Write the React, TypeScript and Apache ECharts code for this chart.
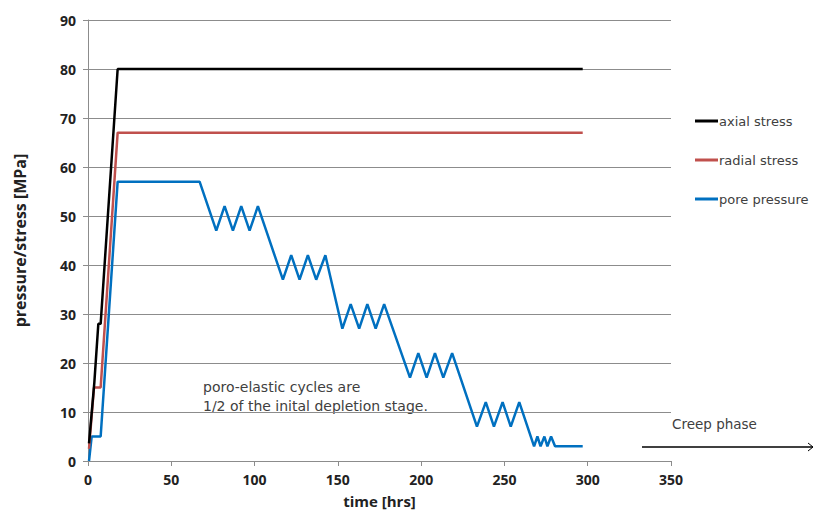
import React, { useEffect, useRef } from "react";
import * as echarts from "echarts";

// time [hrs] / value [MPa] pairs for each curve
const axialTime = [0.6, 3.8, 6.2, 7.6, 17.8, 297];
const axialValue = [3.6, 16, 28, 28, 80, 80];

const radialTime = [0.6, 3.6, 7.6, 17.8, 297];
const radialValue = [2.5, 15, 15, 67, 67];

const poreTime = [
  0.6, 2.2, 7.6, 17.8, 67,
  77, 82, 87, 92, 97, 102,
  117, 122, 127, 132, 137, 142.5,
  152.7, 157.7, 162.8, 167.7, 172.7, 177.8,
  193.3, 198.3, 203.3, 208.3, 213.3, 218.6,
  233.5, 238.8, 243.7, 248.9, 253.8, 258.9,
  267.8, 269.8, 271.7, 274, 275.8, 278, 280.4, 297,
];
const poreValue = [
  0, 5, 5, 57, 57,
  47, 52, 47, 52, 47, 52,
  37, 42, 37, 42, 37, 42,
  27, 32, 27, 32, 27, 32,
  17, 22, 17, 22, 17, 22,
  7, 12, 7, 12, 7, 12,
  3, 5, 3, 5, 3, 5, 3, 3,
];

const seriesNames = ["axial stress", "radial stress", "pore pressure"];
const seriesColors = ["#000000", "#c0504d", "#0070c0"];

const noteLines = ["poro-elastic cycles are", "1/2 of the inital depletion stage."];
const creepLabel = "Creep phase";

const zip = (t: number[], v: number[]) => t.map((x, i) => [x, v[i]]);

export default function App() {
  const ref = useRef<HTMLDivElement>(null);

  useEffect(() => {
    if (!ref.current) return;
    const chart = echarts.init(ref.current, undefined, { renderer: "svg" });
    const font = "'Open Sans', 'Liberation Sans', sans-serif";
    const wideFont = "'DejaVu Sans', 'Open Sans', sans-serif";
    const seriesData = [
      zip(axialTime, axialValue),
      zip(radialTime, radialValue),
      zip(poreTime, poreValue),
    ];
    chart.setOption({
      animation: false,
      backgroundColor: "#ffffff",
      grid: {
        left: 88,
        width: 583,
        top: 20,
        height: 441,
        containLabel: false,
        outerBoundsMode: "none",
      },
      legend: {
        orient: "vertical",
        left: 690,
        top: 108,
        itemWidth: 23,
        itemHeight: 3,
        itemGap: 23,
        icon: "rect",
        data: seriesNames,
        textStyle: {
          fontFamily: wideFont,
          fontSize: 13,
          lineHeight: 16,
          color: "#404040",
          padding: [0, 0, 0, -4],
        },
      },
      xAxis: {
        type: "value",
        min: 0,
        max: 350,
        interval: 50,
        name: "time [hrs]",
        nameLocation: "middle",
        nameGap: 32,
        nameTextStyle: { fontFamily: font, fontSize: 15, fontWeight: "bold", color: "#222" },
        axisLine: { show: true, lineStyle: { color: "#8c8c8c", width: 1 } },
        axisTick: { show: true, length: 5, lineStyle: { color: "#8c8c8c" } },
        axisLabel: { fontFamily: font, fontSize: 14, fontWeight: "bold", color: "#222", margin: 11 },
        splitLine: { show: false },
      },
      yAxis: {
        type: "value",
        min: 0,
        max: 90,
        interval: 10,
        name: "pressure/stress [MPa]",
        nameLocation: "middle",
        nameGap: 60,
        nameTextStyle: { fontFamily: font, fontSize: 16, fontWeight: "bold", color: "#222" },
        axisLine: { show: true, lineStyle: { color: "#8c8c8c", width: 1 } },
        axisTick: { show: true, length: 5, lineStyle: { color: "#8c8c8c" } },
        axisLabel: { fontFamily: font, fontSize: 14, fontWeight: "bold", color: "#222", margin: 12 },
        splitLine: { show: true, lineStyle: { color: "#8c8c8c", width: 1 } },
      },
      series: seriesNames.map((name, i) => ({
        name,
        type: "line",
        data: seriesData[i],
        showSymbol: false,
        symbol: "none",
        color: seriesColors[i],
        lineStyle: { color: seriesColors[i], width: 2.5 },
        z: 5 - i,
      })),
      graphic: [
        {
          type: "text",
          left: 203,
          top: 377,
          style: {
            text: noteLines.join("\n"),
            fontFamily: wideFont,
            fontSize: 14,
            lineHeight: 19,
            fill: "#404040",
          },
        },
        {
          type: "text",
          left: 672,
          top: 417,
          style: { text: creepLabel, fontFamily: wideFont, fontSize: 13.5, fill: "#404040" },
        },
        {
          type: "line",
          shape: { x1: 642, y1: 447, x2: 813, y2: 447 },
          style: { stroke: "#000", lineWidth: 1.5 },
        },
        {
          type: "polyline",
          shape: { points: [[808, 443], [813, 447], [808, 451]] },
          style: { stroke: "#000", lineWidth: 1, fill: "none" },
        },
      ],
    });
    return () => chart.dispose();
  }, []);

  return <div ref={ref} style={{ width: 814, height: 513, position: "absolute", left: 0, top: 0 }} />;
}
